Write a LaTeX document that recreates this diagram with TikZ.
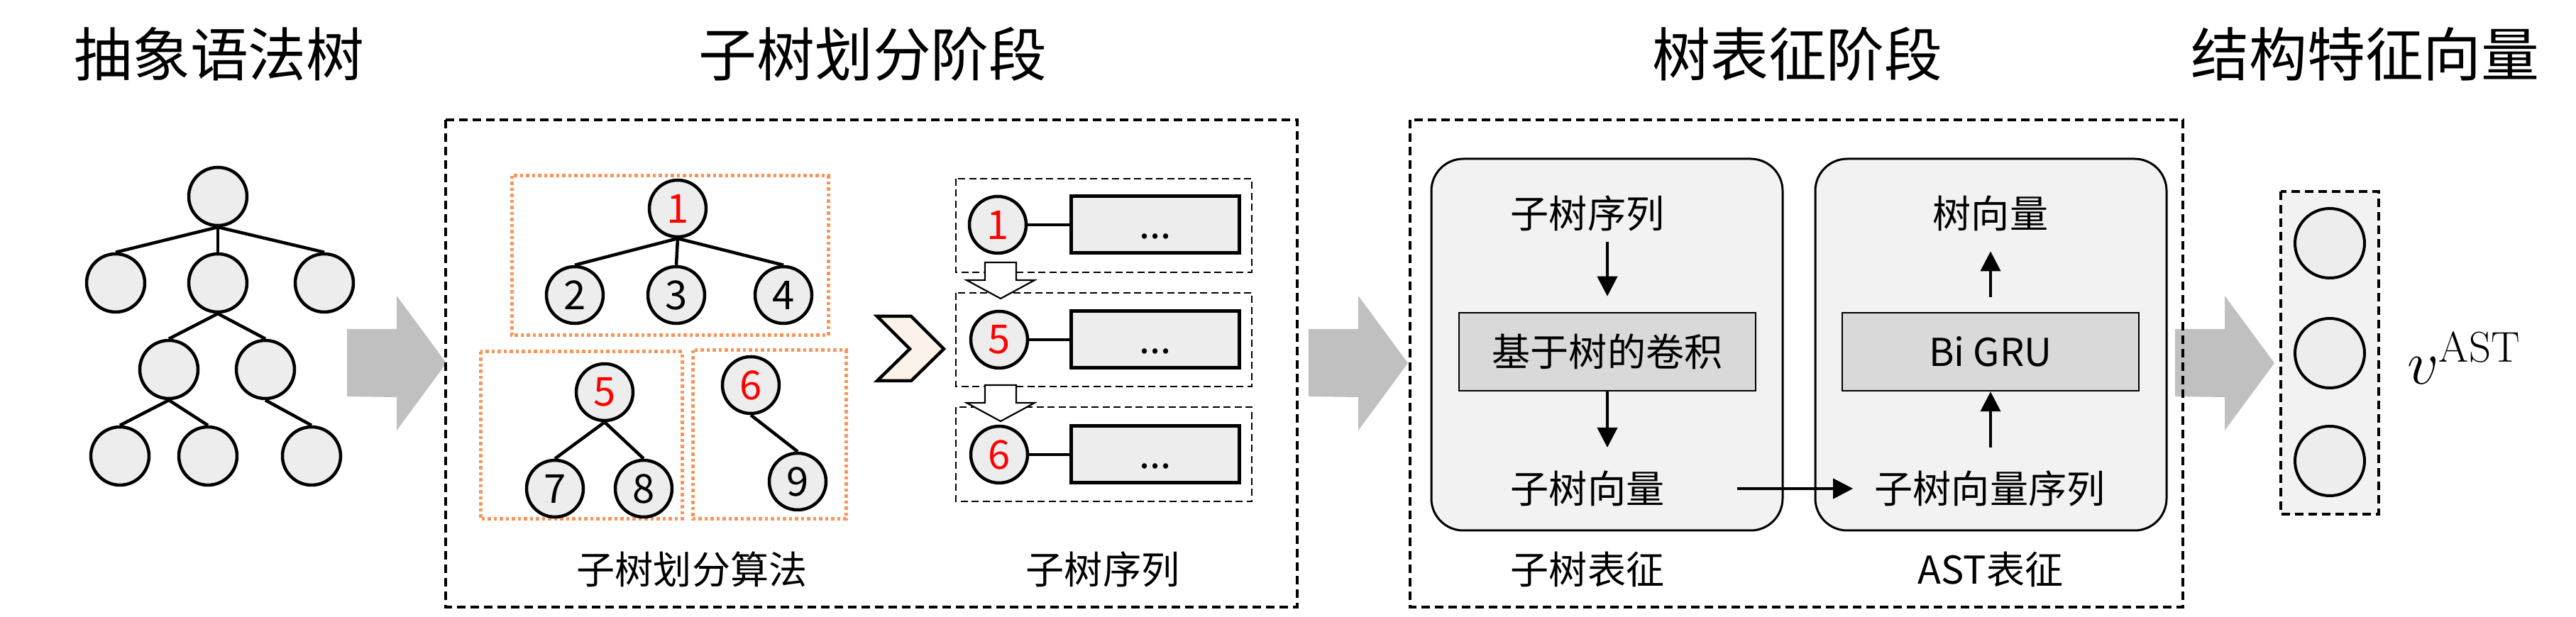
\documentclass[tikz,border=0pt]{standalone}
\usepackage[no-math]{fontspec}
\setmainfont{Noto Sans CJK SC}
\usetikzlibrary{positioning, arrows.meta}

\definecolor{nodeGray}{RGB}{237,237,237}
\definecolor{panelGray}{RGB}{242,242,242}
\definecolor{boxGray}{RGB}{217,217,217}
\definecolor{bigArrowGray}{RGB}{192,192,192}
\definecolor{cutOrange}{RGB}{248,150,90}
\definecolor{chevronFill}{RGB}{251,242,233}
\definecolor{idRed}{RGB}{255,0,0}

\tikzset{
        titleText/.style={font=\fontsize{23.3pt}{28pt}\selectfont},
        labelText/.style={font=\fontsize{15.4pt}{19pt}\selectfont},
        astNode/.style={circle, draw, line width=0.045cm, fill=nodeGray, minimum size=0.82cm, inner sep=0pt},
        subNode/.style={circle, draw, line width=0.045cm, fill=nodeGray, minimum size=0.80cm, inner sep=0pt, font=\fontsize{16pt}{19pt}\selectfont},
        headNode/.style={subNode, text=idRed},
        seqRect/.style={rectangle, draw, line width=0.05cm, fill=nodeGray, minimum width=2.37cm, minimum height=0.80cm, inner sep=0pt, text height=0.40cm, text depth=0cm, labelText},
        opBox/.style={rectangle, draw, line width=0.025cm, fill=boxGray, minimum width=4.18cm, minimum height=1.10cm, inner sep=0pt, labelText},
        vecNode/.style={circle, draw, line width=0.04cm, fill=nodeGray, minimum size=0.98cm, inner sep=0pt},
        treeEdge/.style={line width=0.045cm},
        flowArrow/.style={line width=0.04cm, -{Triangle[length=0.28cm, width=0.28cm]}},
        stageBox/.style={line width=0.045cm, dash pattern=on 0.12cm off 0.07cm},
        rowBox/.style={line width=0.028cm, dash pattern=on 0.10cm off 0.055cm},
        cutBox/.style={draw=cutOrange, line width=0.05cm, dash pattern=on 0.045cm off 0.04cm},
        panel/.style={draw, line width=0.03cm, fill=panelGray, rounded corners=0.45cm}
}

\begin{document}
\begin{tikzpicture}
        \useasboundingbox (0,0) rectangle (36.3,-8.7);

        % titles
        \node[titleText] (astTitle) at (3.09,-0.76) {抽象语法树};
        \node[titleText] (splitTitle) at (12.30,-0.76) {子树划分阶段};
        \node[titleText] (reprTitle) at (25.33,-0.76) {树表征阶段};
        \node[titleText] (vecTitle) at (33.33,-0.76) {结构特征向量};

        % abstract syntax tree
        \node[astNode] (root) at (3.07,-2.77) {};
        \node[astNode] (l2a) at (1.63,-3.99) {};
        \node[astNode] (l2b) at (3.07,-3.99) {};
        \node[astNode] (l2c) at (4.57,-3.99) {};
        \node[astNode] (l3a) at (2.38,-5.21) {};
        \node[astNode] (l3b) at (3.74,-5.21) {};
        \node[astNode] (l4a) at (1.69,-6.43) {};
        \node[astNode] (l4b) at (2.93,-6.43) {};
        \node[astNode] (l4c) at (4.39,-6.43) {};

        \draw[treeEdge] (root.south) edge (l2a.north);
        \draw[treeEdge] (root.south) edge (l2b.north);
        \draw[treeEdge] (root.south) edge (l2c.north);
        \draw[treeEdge] (l2b.south) edge (l3a.north);
        \draw[treeEdge] (l2b.south) edge (l3b.north);
        \draw[treeEdge] (l3a.south) edge (l4a.north);
        \draw[treeEdge] (l3a.south) edge (l4b.north);
        \draw[treeEdge] (l3b.south) edge (l4c.north);

        % big gray arrows
        \foreach \x in {4.89, 18.44, 30.65} {
                \fill[bigArrowGray] (\x,-4.64) -- ++(0.70,0) -- ++(0,0.47) -- ++(0.70,-0.95)
                        -- ++(-0.70,-0.95) -- ++(0,0.47) -- (\x,-5.59) -- cycle;
        }

        % subtree splitting stage
        \draw[stageBox] (6.28,-1.69) rectangle (18.28,-8.56);
        \draw[cutBox] (7.21,-2.48) rectangle (11.67,-4.73);
        \draw[cutBox] (6.77,-4.96) rectangle (9.61,-7.32);
        \draw[cutBox] (9.76,-4.94) rectangle (11.92,-7.32);

        \node[headNode] (n1) at (9.55,-2.94) {1};
        \node[subNode] (n2) at (8.10,-4.16) {2};
        \node[subNode] (n3) at (9.53,-4.16) {3};
        \node[subNode] (n4) at (11.04,-4.16) {4};
        \node[headNode] (n5) at (8.52,-5.53) {5};
        \node[subNode] (n7) at (7.82,-6.89) {7};
        \node[subNode] (n8) at (9.07,-6.89) {8};
        \node[headNode] (n6) at (10.58,-5.43) {6};
        \node[subNode] (n9) at (11.24,-6.79) {9};

        \draw[treeEdge] (n1.south) edge (n2.north);
        \draw[treeEdge] (n1.south) edge (n3.north);
        \draw[treeEdge] (n1.south) edge (n4.north);
        \draw[treeEdge] (n5.south) edge (n7.north);
        \draw[treeEdge] (n5.south) edge (n8.north);
        \draw[treeEdge] (n6.south) edge (n9.north);

        \node[labelText] (splitLabel) at (9.75,-8.03) {子树划分算法};

        \draw[line width=0.045cm, fill=chevronFill] (12.36,-4.46) -- (12.84,-4.46) -- (13.30,-4.92)
                -- (12.84,-5.37) -- (12.36,-5.37) -- (12.82,-4.92) -- cycle;

        % subtree sequence
        \draw[rowBox] (13.47,-2.52) rectangle (17.64,-3.84);
        \draw[rowBox] (13.47,-4.13) rectangle (17.64,-5.45);
        \draw[rowBox] (13.47,-5.74) rectangle (17.64,-7.07);

        \node[headNode] (q1) at (14.06,-3.17) {1};
        \node[headNode] (q5) at (14.08,-4.79) {5};
        \node[headNode] (q6) at (14.08,-6.41) {6};
        \node[seqRect] (s1) at (16.28,-3.17) {...};
        \node[seqRect] (s5) at (16.28,-4.79) {...};
        \node[seqRect] (s6) at (16.28,-6.41) {...};

        \draw[treeEdge] (q1) -- (s1);
        \draw[treeEdge] (q5) -- (s5);
        \draw[treeEdge] (q6) -- (s6);

        \foreach \y in {3.70, 5.43} {
                \draw[line width=0.022cm, fill=white] (13.88,-\y) -- (14.32,-\y) -- (14.32,-\y-0.25)
                        -- (14.58,-\y-0.25) -- (14.10,-\y-0.51) -- (13.62,-\y-0.25) -- (13.88,-\y-0.25) -- cycle;
        }

        \node[labelText] (seqLabel) at (15.54,-8.03) {子树序列};

        % tree representation stage
        \draw[stageBox] (19.87,-1.69) rectangle (30.76,-8.56);
        \draw[panel] (20.17,-2.24) rectangle (25.12,-7.48);
        \draw[panel] (25.58,-2.24) rectangle (30.53,-7.48);

        \node[labelText] (seqText) at (22.37,-3.01) {子树序列};
        \node[opBox] (convBox) at (22.65,-4.96) {基于树的卷积};
        \node[labelText] (vecText) at (22.37,-6.89) {子树向量};
        \coordinate (convIn) at (22.65,-3.41);
        \coordinate (convOut) at (22.65,-6.31);

        \node[labelText] (treeVecText) at (28.05,-3.01) {树向量};
        \node[opBox] (gruBox) at (28.05,-4.96) {Bi GRU};
        \node[labelText] (seqVecText) at (28.04,-6.89) {子树向量序列};
        \coordinate (gruIn) at (28.05,-6.31);
        \coordinate (gruOut) at (28.05,-4.19);

        \draw[flowArrow] (convIn) -- ([yshift=0.22cm]convBox.north);
        \draw[flowArrow] (convBox.south) -- (convOut);
        \draw[flowArrow] (gruIn) -- (gruBox.south);
        \draw[flowArrow] (gruOut) -- ([yshift=-0.16cm]treeVecText.south);
        \draw[flowArrow] ([xshift=0.90cm]vecText.east) -- ([xshift=-0.18cm]seqVecText.west);

        \node[labelText] (subReprLabel) at (22.37,-8.03) {子树表征};
        \node[labelText] (astReprLabel) at (28.05,-8.03) {AST表征};

        % structure feature vector
        \draw[stageBox, line width=0.045cm, fill=panelGray] (32.14,-2.70) rectangle (33.52,-7.25);
        \node[vecNode] (v1) at (32.83,-3.43) {};
        \node[vecNode] (v2) at (32.83,-4.98) {};
        \node[vecNode] (v3) at (32.83,-6.50) {};
        \node[anchor=base west, font=\fontsize{25pt}{30pt}\selectfont] (vecName) at (33.80,-5.42) {$v^{\mathrm{AST}}$};
\end{tikzpicture}
\end{document}
